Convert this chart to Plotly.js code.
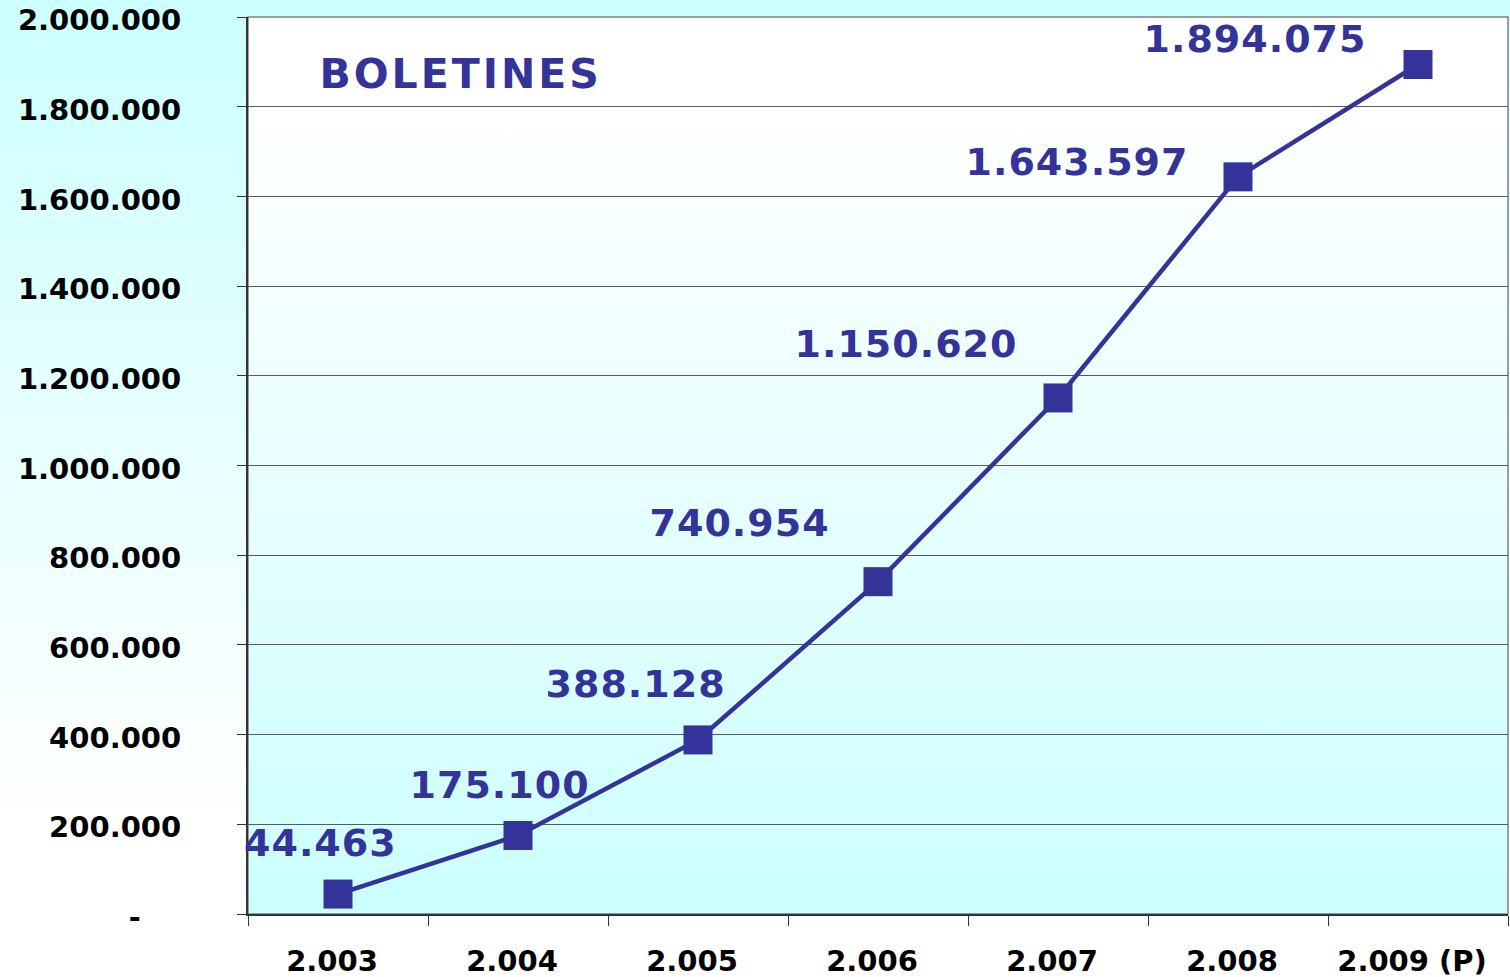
<!DOCTYPE html>
<html>
<head>
<meta charset="utf-8">
<script src="https://cdn.plot.ly/plotly-3.0.1.min.js"></script>
<style>
  html, body { margin: 0; padding: 0; }
  #chart { width: 1510px; height: 977px; background: linear-gradient(to bottom, #ccffff 0%, #ffffff 85%, #ffffff 100%); }
  #chart .annotation text { letter-spacing: 1px; }
  #chart .annotation[data-index="7"] text { letter-spacing: 3px; }
</style>
</head>
<body>
<div id="chart"></div>
<script>
// ---- data ----
const years = ["2.003", "2.004", "2.005", "2.006", "2.007", "2.008", "2.009 (P)"];
const boletines = [44463, 175100, 388128, 740954, 1150620, 1643597, 1894075];
const valueLabels = ["44.463", "175.100", "388.128", "740.954", "1.150.620", "1.643.597", "1.894.075"];
const yTickVals = [0, 200000, 400000, 600000, 800000, 1000000, 1200000, 1400000, 1600000, 1800000, 2000000];
const yTickText = ["-", "200.000", "400.000", "600.000", "800.000", "1.000.000", "1.200.000", "1.400.000", "1.600.000", "1.800.000", "2.000.000"];
const chartTitle = "BOLETINES";

// ---- label placement (pixels, relative to each point) ----
const labelDX = [-18, -19, -63, -139, -152, -161, -163];
const labelDY = [51, 50, 56, 59, 54, 15, 26];

const navy = "#333399";
const font = "DejaVu Sans, Verdana, sans-serif";

const gradSvg = '<svg xmlns="http://www.w3.org/2000/svg" width="100" height="100" viewBox="0 0 100 100" preserveAspectRatio="none">' +
  '<defs><linearGradient id="g" x1="0" y1="0" x2="0" y2="1">' +
  '<stop offset="0" stop-color="#ffffff"/><stop offset="0.1" stop-color="#ffffff"/><stop offset="1" stop-color="#ccffff"/>' +
  '</linearGradient></defs><rect x="0" y="0" width="100" height="100" fill="url(#g)"/></svg>';
const gradUri = "data:image/svg+xml;base64," + btoa(gradSvg);

const trace = {
  x: years,
  y: boletines,
  type: "scatter",
  mode: "lines+markers",
  line: { color: navy, width: 4.5 },
  marker: { symbol: "square", size: 29, color: navy },
  hoverinfo: "x+y",
  cliponaxis: false
};

const annotations = years.map((yr, i) => ({
  x: i, y: boletines[i], xref: "x", yref: "y",
  text: valueLabels[i], showarrow: false,
  xanchor: "center", yanchor: "middle",
  xshift: labelDX[i], yshift: labelDY[i],
  font: { family: font, size: 38, color: navy, weight: "bold" }
}));
annotations.push({
  x: 0.1685, y: 0.936, xref: "paper", yref: "paper",
  text: chartTitle, showarrow: false, xanchor: "center", yanchor: "middle",
  font: { family: font, size: 41, color: navy, weight: "bold" }
});

// accounting-style zero: dash padded away from the axis
const yTickDisplay = yTickText.map(t => t === "-" ? t + "\u00a0\u00a0\u00a0\u00a0" : t);

const layout = {
  width: 1510, height: 977,
  margin: { l: 248, r: 2, t: 17, b: 63 },
  paper_bgcolor: "rgba(0,0,0,0)",
  plot_bgcolor: "rgba(0,0,0,0)",
  showlegend: false,
  xaxis: {
    type: "category",
    range: [-0.5, 6.5],
    tickson: "boundaries",
    ticks: "outside", ticklen: 10, tickwidth: 1, tickcolor: "#333333",
    showline: true, linecolor: "#333333", linewidth: 2,
    showgrid: false, zeroline: false,
    tickfont: { family: font, size: 29, color: "#000000", weight: "bold" },
    ticklabelstandoff: 20,
    ticklabelshift: -6
  },
  yaxis: {
    range: [0, 2000000],
    tickvals: yTickVals, ticktext: yTickDisplay,
    ticks: "outside", ticklen: 9, tickwidth: 1, tickcolor: "#333333",
    showline: true, linecolor: "#333333", linewidth: 2,
    showgrid: true, gridcolor: "#5a5a5a", gridwidth: 1,
    zeroline: false,
    tickfont: { family: font, size: 29, color: "#000000", weight: "bold" },
    ticklabelstandoff: 50,
    ticklabelshift: 3,
    ticklabeloverflow: "allow"
  },
  images: [{
    source: gradUri, xref: "paper", yref: "paper",
    x: 0, y: 1, sizex: 1, sizey: 1, xanchor: "left", yanchor: "top",
    sizing: "stretch", layer: "below"
  }],
  shapes: [{
    type: "rect", xref: "paper", yref: "paper", x0: 0, x1: 1, y0: 0, y1: 1,
    line: { color: "#808080", width: 1.5 }, fillcolor: "rgba(0,0,0,0)", layer: "below"
  }],
  annotations: annotations
};

Plotly.newPlot("chart", [trace], layout, { displayModeBar: false });
</script>
</body>
</html>
